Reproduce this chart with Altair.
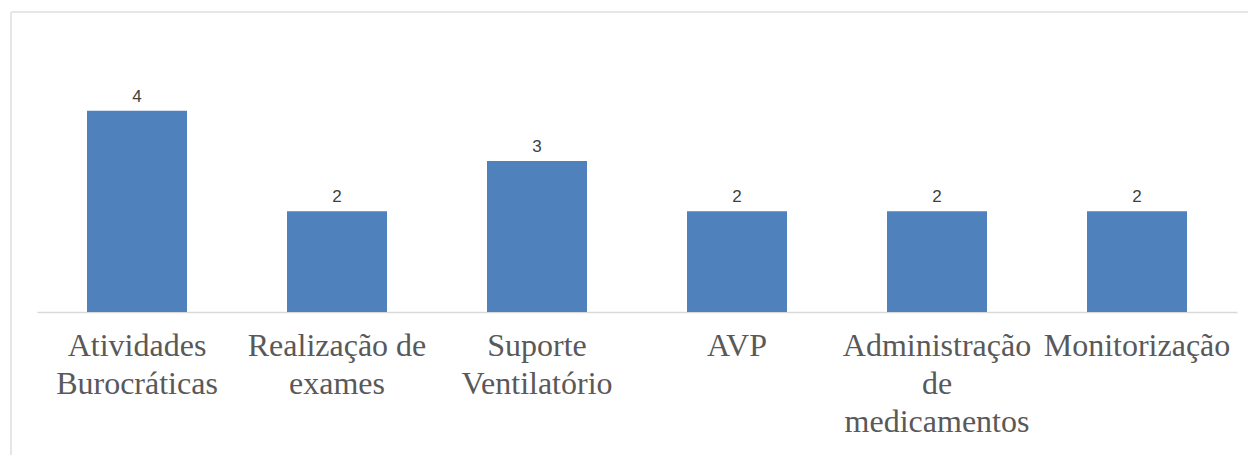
import altair as alt
import pandas as pd

categories = ["Atividades Burocráticas", "Realização de exames", "Suporte Ventilatório",
              "AVP", "Administração de medicamentos", "Monitorização"]
label_lines = [["Atividades", "Burocráticas"], ["Realização de", "exames"],
               ["Suporte", "Ventilatório"], ["AVP"],
               ["Administração", "de", "medicamentos"], ["Monitorização"]]
values = [4, 2, 3, 2, 2, 2]

df = pd.DataFrame({"cat": categories, "val": values})

mapping = "{" + ",".join(
    "'" + c + "':[" + ",".join("'" + l + "'" for l in ls) + "]"
    for c, ls in zip(categories, label_lines)) + "}"
label_expr = mapping + "[datum.label]"

x = alt.X("cat:N", sort=categories, title=None,
          scale=alt.Scale(paddingInner=0.5, paddingOuter=0.25),
          axis=alt.Axis(labelExpr=label_expr, labelAngle=0,
                        labelFont="Liberation Serif",
                        labelFontSize=32, labelColor="#595959", labelLineHeight=38,
                        labelPadding=18, ticks=False, domainColor="#d9d9d9",
                        domainWidth=1.5, labelLimit=400, labelOverlap=False))
y = alt.Y("val:Q", title=None, scale=alt.Scale(domain=[0, 6], nice=False),
          axis=None)

bars = alt.Chart(df).mark_bar(color="#4f81bd").encode(x=x, y=y)
text = alt.Chart(df).mark_text(baseline="bottom", dy=-5, font="Liberation Sans",
                               fontSize=17, color="#404040").encode(
    x=x, y=y, text="val:Q")

border_top = alt.Chart(df).mark_rule(color="#e6e6e6", strokeWidth=2).encode(
    x=alt.value(-26), x2=alt.value(1215), y=alt.value(2))
border_left = alt.Chart(df).mark_rule(color="#e6e6e6", strokeWidth=2).encode(
    x=alt.value(-26), y=alt.value(2), y2=alt.value(450))

chart = alt.layer(border_top, border_left, bars, text).properties(
    width=1200, height=302,
    autosize=alt.AutoSizeParams(type="none"),
    padding={"left": 37, "top": 10, "right": 11, "bottom": 143},
    background="white",
).configure_view(stroke=None)

chart.save("out.html", embed_options={"renderer": "svg", "actions": False})
